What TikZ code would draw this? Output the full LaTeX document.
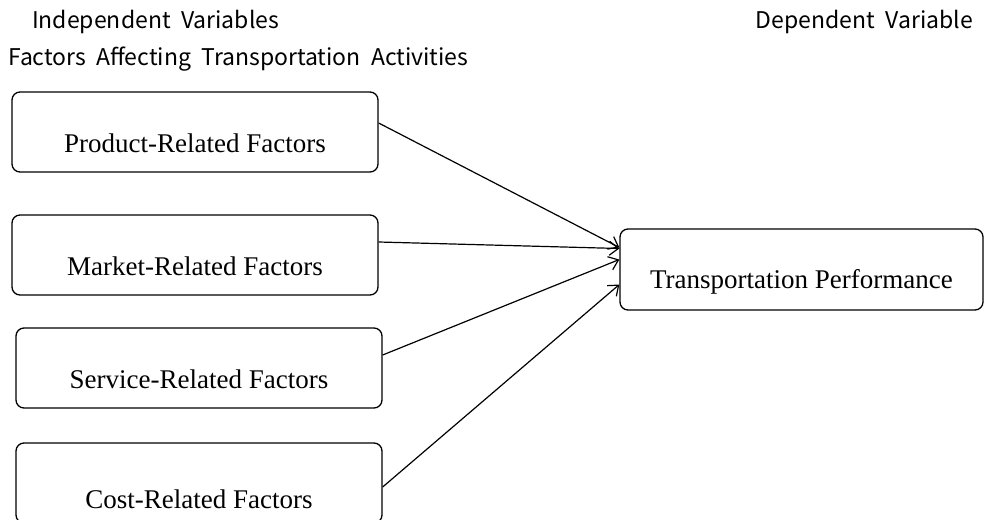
\documentclass[tikz,border=0pt]{standalone}
\usepackage{fontspec}
\setmainfont{Liberation Serif}
\newfontfamily\headfont[WordSpace=2]{Noto Sans CJK KR}
\usetikzlibrary{arrows.meta}
\begin{document}
\begin{tikzpicture}[x=1pt,y=-1pt,
    factor/.style={draw,rounded corners=8pt,line width=1.3pt,minimum width=366pt,minimum height=80pt,
      font=\fontsize{27}{30}\selectfont,text height=40pt,text depth=0pt},
    head/.style={font=\headfont\fontsize{23}{26}\selectfont,inner sep=0pt,anchor=base west},
    link/.style={line width=1.2pt,-{Straight Barb[length=9pt,width=14pt,line width=1.2pt]}}]
        \useasboundingbox (0,0) rectangle (984,519);
        \draw (32,29) node[head](iv){Independent Variables};
        \draw (8,66) node[head](fa){Factors Affecting Transportation Activities};
        \draw (973,29) node[head,anchor=base east](dv){Dependent Variable};
        \draw (195,132) node[factor](prod){Product-Related Factors};
        \draw (195,255) node[factor](mark){Market-Related Factors};
        \draw (199,368) node[factor](serv){Service-Related Factors};
        \draw (199,483) node[factor,text height=50pt](cost){Cost-Related Factors};
        \draw (801.5,269.5) node[factor,minimum width=363pt,minimum height=81pt,text height=37pt](perf){Transportation Performance};
        \draw[link]
          ([yshift=9pt]prod.east) -- ([yshift=22pt]perf.west);
        \draw[link]
          ([yshift=13pt]mark.east) -- ([yshift=21pt]perf.west);
        \draw[link]
          ([yshift=13pt]serv.east) -- ([yshift=10pt]perf.west);
        \draw[link]
          ([yshift=-4pt]cost.east) -- ([yshift=-15pt]perf.west);
      \end{tikzpicture}
\end{document}
